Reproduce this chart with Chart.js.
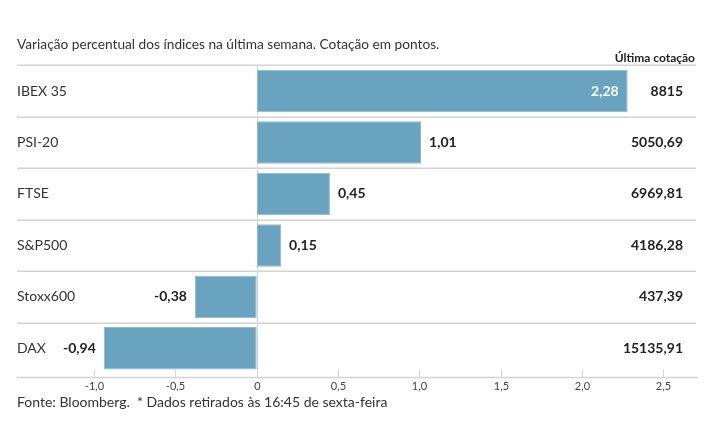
<!DOCTYPE html>
<html>
<head>
<meta charset="utf-8">
<script src="https://cdn.jsdelivr.net/npm/chart.js@4"></script>
<style>
  html, body { margin: 0; padding: 0; background: #fff; }
  #wrap { position: relative; width: 715px; height: 445px; }
</style>
</head>
<body>
<div id="wrap"><canvas id="canvas"></canvas></div>
<script>
// dados
var categories = ['IBEX 35', 'PSI-20', 'FTSE', 'S&P500', 'Stoxx600', 'DAX'];
var changes = [2.28, 1.01, 0.45, 0.15, -0.38, -0.94];
var quotes = ['8815', '5050,69', '6969,81', '4186,28', '437,39', '15135,91'];
var tickValues = [-1.0, -0.5, 0, 0.5, 1.0, 1.5, 2.0, 2.5];

var titleText = 'Variação percentual dos índices na última semana. Cotação em pontos.';
var quoteHeader = 'Última cotação';
var footerText = 'Fonte: Bloomberg.  * Dados retirados às 16:45 de sexta-feira';

var FONT = 'Lato, "Noto Sans", sans-serif';
var barColor = '#69a3bf';
var gridColor = '#d3d3d3';

function fmt(v, d) {
	if (v === 0) return '0';
	return v.toFixed(d).replace('.', ',');
}

var tablePlugin = {
	id: 'tablePlugin',
	beforeDatasetsDraw: function(chart) {
		var ctx = chart.ctx;
		var area = chart.chartArea;
		var x = chart.scales.x;
		var step = (area.bottom - area.top) / categories.length;
		var axisY = area.bottom + 3.5;
		ctx.save();
		// linhas entre as linhas da tabela
		ctx.strokeStyle = gridColor;
		ctx.lineWidth = 1.5;
		for (var i = 0; i < categories.length; i++) {
			var ly = Math.round(area.top + i * step) + 0.25;
			ctx.beginPath();
			ctx.moveTo(area.left, ly);
			ctx.lineTo(area.right, ly);
			ctx.stroke();
		}
		// eixo
		ctx.beginPath();
		ctx.moveTo(area.left, axisY);
		ctx.lineTo(area.right + 2, axisY);
		ctx.stroke();
		// linha do zero
		ctx.lineWidth = 1;
		var zx = Math.round(x.getPixelForValue(0)) + 0.5;
		ctx.beginPath();
		ctx.moveTo(zx, area.top);
		ctx.lineTo(zx, axisY);
		ctx.stroke();
		// marcas e etiquetas do eixo
		ctx.fillStyle = '#444';
		ctx.font = '11px ' + FONT;
		ctx.textAlign = 'center';
		ctx.textBaseline = 'middle';
		tickValues.forEach(function(t) {
			var tx = Math.round(x.getPixelForValue(t)) + 0.5;
			ctx.beginPath();
			ctx.moveTo(tx, axisY - 8);
			ctx.lineTo(tx, axisY);
			ctx.stroke();
			ctx.fillText(fmt(t, 1), tx, axisY + 9);
		});
		ctx.restore();
	},
	afterDatasetsDraw: function(chart) {
		var ctx = chart.ctx;
		var area = chart.chartArea;
		var x = chart.scales.x;
		var y = chart.scales.y;
		ctx.save();
		ctx.textBaseline = 'middle';

		// título e rodapé
		ctx.fillStyle = '#333';
		ctx.font = '13.7px ' + FONT;
		ctx.textAlign = 'left';
		ctx.fillText(titleText, 17, 45);
		ctx.font = '14px ' + FONT;
		ctx.fillText(footerText, 17, 402);

		ctx.font = 'bold 12px ' + FONT;
		ctx.textAlign = 'right';
		ctx.fillStyle = '#222';
		ctx.fillText(quoteHeader, area.right - 1, 58);

		for (var i = 0; i < categories.length; i++) {
			var cy = y.getPixelForValue(i);
			var v = changes[i];
			var bx = x.getPixelForValue(v);
			var label = fmt(v, 2);

			ctx.font = '14px ' + FONT;
			ctx.fillStyle = '#333';
			ctx.textAlign = 'left';
			ctx.fillText(categories[i], 17, cy);

			ctx.font = 'bold 14px ' + FONT;
			var w = ctx.measureText(label).width;
			if (v >= 0 && bx + 8 + w > 590) {
				// não cabe fora: vai dentro da barra
				ctx.fillStyle = '#fff';
				ctx.textAlign = 'right';
				ctx.fillText(label, bx - 9, cy);
			} else if (v >= 0) {
				ctx.fillStyle = '#222';
				ctx.textAlign = 'left';
				ctx.fillText(label, bx + 8, cy);
			} else {
				ctx.fillStyle = '#222';
				ctx.textAlign = 'right';
				ctx.fillText(label, bx - 8, cy);
			}

			ctx.fillStyle = '#222';
			ctx.textAlign = 'right';
			ctx.fillText(quotes[i], 683, cy);
		}
		ctx.restore();
	}
};

var ctx = document.getElementById('canvas').getContext('2d');
window.myBar = new Chart(ctx, {
	type: 'bar',
	data: {
		labels: categories,
		datasets: [{
			label: 'Variação %',
			data: changes,
			backgroundColor: barColor,
			borderColor: '#8dbad0',
			borderWidth: 1,
			borderSkipped: false,
			categoryPercentage: 1,
			barPercentage: 0.826
		}]
	},
	options: {
		indexAxis: 'y',
		responsive: true,
		maintainAspectRatio: false,
		animation: false,
		layout: {
			padding: { left: 17, right: 19, top: 65.3, bottom: 70.9 }
		},
		plugins: {
			legend: { display: false },
			tooltip: { enabled: false }
		},
		scales: {
			x: { display: false, min: -1.4733, max: 2.7 },
			y: { display: false }
		}
	},
	plugins: [tablePlugin]
});
</script>
</body>
</html>
